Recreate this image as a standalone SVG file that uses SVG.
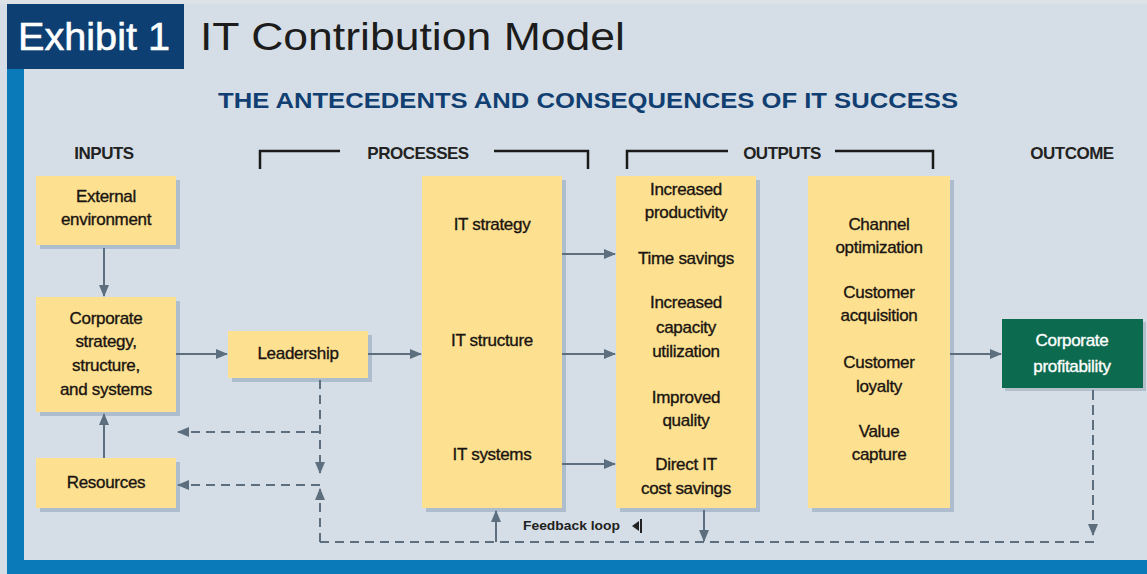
<svg xmlns="http://www.w3.org/2000/svg" width="1147" height="574" viewBox="0 0 1147 574">
  <style>
    .bg { fill: #d5dee6; }
    .box { fill: #fde190; }
    .shadow { fill: #aebdcd; }
    .lbl { font-family: "Liberation Sans", Arial, sans-serif; font-size: 17px; fill: #1a1410; stroke: #1a1410; stroke-width: 0.35px; text-anchor: middle; letter-spacing: -0.3px; }
    .lbl.light { fill: #ffffff; stroke: #ffffff; }
    .head { font-family: "Liberation Sans", Arial, sans-serif; font-size: 17px; font-weight: bold; fill: #222; text-anchor: middle; letter-spacing: -0.5px; }
    .solid { stroke: #5d6f7f; stroke-width: 2; fill: none; }
    .dash { stroke: #5d6f7f; stroke-width: 2; fill: none; stroke-dasharray: 9 6; }
    .bracket { stroke: #1a1a1a; stroke-width: 2.5; fill: none; }
  </style>
  <defs>
    <marker id="arrowL" viewBox="0 0 12 12" refX="11" refY="6" markerWidth="12" markerHeight="12" orient="auto" markerUnits="userSpaceOnUse">
      <path d="M0,1 L12,6 L0,11 Z" fill="#5d6f7f"/>
    </marker>
  </defs>

  <!-- page background and frame -->
  <rect class="bg" x="0" y="0" width="1147" height="574"/>
  <rect x="0" y="0" width="1147" height="4" fill="#dde2e6"/>
  <rect x="7" y="68" width="17" height="506" fill="#0a7bb8"/>
  <rect x="7" y="560" width="1140" height="14" fill="#0a7bb8"/>

  <!-- header -->
  <g id="header">
    <rect x="7" y="4" width="177" height="65" fill="#0e3f73"/>
    <text x="18" y="50" font-family="Liberation Sans, Arial, sans-serif" font-size="39" fill="#ffffff" stroke="#ffffff" stroke-width="0.6" textLength="152" lengthAdjust="spacingAndGlyphs">Exhibit 1</text>
    <text x="200" y="50" font-family="Liberation Sans, Arial, sans-serif" font-size="38" fill="#1c1c1c" textLength="425" lengthAdjust="spacingAndGlyphs">IT Contribution Model</text>
    <text x="588" y="108" font-family="Liberation Sans, Arial, sans-serif" font-size="22" font-weight="bold" fill="#123f72" text-anchor="middle" textLength="740" lengthAdjust="spacingAndGlyphs">THE ANTECEDENTS AND CONSEQUENCES OF IT SUCCESS</text>
  </g>

  <!-- column headings -->
  <g id="headings">
    <text class="head" x="104" y="159">INPUTS</text>
    <path class="bracket" d="M260,169 V151 H340 M494,151 H588 V169"/>
    <text class="head" x="418" y="159">PROCESSES</text>
    <path class="bracket" d="M627,169 V151 H728 M835,151 H933 V169"/>
    <text class="head" x="782" y="159">OUTPUTS</text>
    <text class="head" x="1072" y="159">OUTCOME</text>
  </g>

  <!-- nodes -->
  <g id="external-environment">
    <rect class="shadow" x="40" y="180" width="140" height="69"/>
    <rect class="box" x="36" y="176" width="140" height="69"/>
    <text class="lbl" x="106" y="202">External</text>
    <text class="lbl" x="106" y="225">environment</text>
  </g>

  <g id="corporate-strategy">
    <rect class="shadow" x="40" y="301" width="140" height="115"/>
    <rect class="box" x="36" y="297" width="140" height="115"/>
    <text class="lbl" x="106" y="324">Corporate</text>
    <text class="lbl" x="106" y="347">strategy,</text>
    <text class="lbl" x="106" y="371">structure,</text>
    <text class="lbl" x="106" y="395">and systems</text>
  </g>

  <g id="resources">
    <rect class="shadow" x="40" y="462" width="140" height="50"/>
    <rect class="box" x="36" y="458" width="140" height="50"/>
    <text class="lbl" x="106" y="488">Resources</text>
  </g>

  <g id="leadership">
    <rect class="shadow" x="232" y="335" width="140" height="47"/>
    <rect class="box" x="228" y="331" width="140" height="47"/>
    <text class="lbl" x="298" y="359">Leadership</text>
  </g>

  <g id="it-processes">
    <rect class="shadow" x="426" y="180" width="140" height="332"/>
    <rect class="box" x="422" y="176" width="140" height="332"/>
    <text class="lbl" x="492" y="230">IT strategy</text>
    <text class="lbl" x="492" y="346">IT structure</text>
    <text class="lbl" x="492" y="460">IT systems</text>
  </g>

  <g id="operational-outputs">
    <rect class="shadow" x="620" y="180" width="140" height="332"/>
    <rect class="box" x="616" y="176" width="140" height="332"/>
    <text class="lbl" x="686" y="195">Increased</text>
    <text class="lbl" x="686" y="218">productivity</text>
    <text class="lbl" x="686" y="264">Time savings</text>
    <text class="lbl" x="686" y="308">Increased</text>
    <text class="lbl" x="686" y="333">capacity</text>
    <text class="lbl" x="686" y="357">utilization</text>
    <text class="lbl" x="686" y="403">Improved</text>
    <text class="lbl" x="686" y="426">quality</text>
    <text class="lbl" x="686" y="470">Direct IT</text>
    <text class="lbl" x="686" y="494">cost savings</text>
  </g>

  <g id="customer-outputs">
    <rect class="shadow" x="812" y="180" width="142" height="332"/>
    <rect class="box" x="808" y="176" width="142" height="332"/>
    <text class="lbl" x="879" y="230">Channel</text>
    <text class="lbl" x="879" y="253">optimization</text>
    <text class="lbl" x="879" y="298">Customer</text>
    <text class="lbl" x="879" y="321">acquisition</text>
    <text class="lbl" x="879" y="368">Customer</text>
    <text class="lbl" x="879" y="392">loyalty</text>
    <text class="lbl" x="879" y="437">Value</text>
    <text class="lbl" x="879" y="460">capture</text>
  </g>

  <g id="corporate-profitability">
    <rect x="1005" y="322" width="141" height="69" fill="#b3c0cc"/>
    <rect x="1002" y="319" width="141" height="69" fill="#0c6b4f"/>
    <text class="lbl light" x="1072" y="346">Corporate</text>
    <text class="lbl light" x="1072" y="372">profitability</text>
  </g>

  <!-- connectors -->
  <g id="connectors">
    <!-- forward flow -->
    <line class="solid" x1="104" y1="248" x2="104" y2="296" marker-end="url(#arrowL)"/>
    <line class="solid" x1="104" y1="458" x2="104" y2="414" marker-end="url(#arrowL)"/>
    <line class="solid" x1="176" y1="354" x2="227" y2="354" marker-end="url(#arrowL)"/>
    <line class="solid" x1="368" y1="354" x2="421" y2="354" marker-end="url(#arrowL)"/>
    <line class="solid" x1="562" y1="254" x2="615" y2="254" marker-end="url(#arrowL)"/>
    <line class="solid" x1="562" y1="354" x2="615" y2="354" marker-end="url(#arrowL)"/>
    <line class="solid" x1="562" y1="464" x2="615" y2="464" marker-end="url(#arrowL)"/>
    <line class="solid" x1="950" y1="354" x2="1001" y2="354" marker-end="url(#arrowL)"/>

    <!-- feedback loop -->
    <line class="dash" x1="320" y1="380" x2="320" y2="473" marker-end="url(#arrowL)"/>
    <line class="dash" x1="320" y1="542" x2="320" y2="489" marker-end="url(#arrowL)"/>
    <path class="dash" d="M320,542 H1093 V390"/>
    <line class="dash" x1="1093" y1="390" x2="1093" y2="535" marker-end="url(#arrowL)"/>
    <line class="dash" x1="320" y1="432" x2="178" y2="432" marker-end="url(#arrowL)"/>
    <line class="dash" x1="320" y1="485" x2="178" y2="485" marker-end="url(#arrowL)"/>
    <line class="solid" x1="496" y1="542" x2="496" y2="511" marker-end="url(#arrowL)"/>
    <line class="solid" x1="704" y1="510" x2="704" y2="541" marker-end="url(#arrowL)"/>
  </g>

  <g id="feedback-label">
    <text x="523" y="530" font-family="Liberation Sans, Arial, sans-serif" font-size="12" font-weight="bold" fill="#222" textLength="97" lengthAdjust="spacingAndGlyphs">Feedback loop</text>
    <path d="M632,526 L639,521 L639,531 Z" fill="#222"/>
    <line x1="641" y1="519" x2="641" y2="533" stroke="#222" stroke-width="2"/>
  </g>
</svg>
